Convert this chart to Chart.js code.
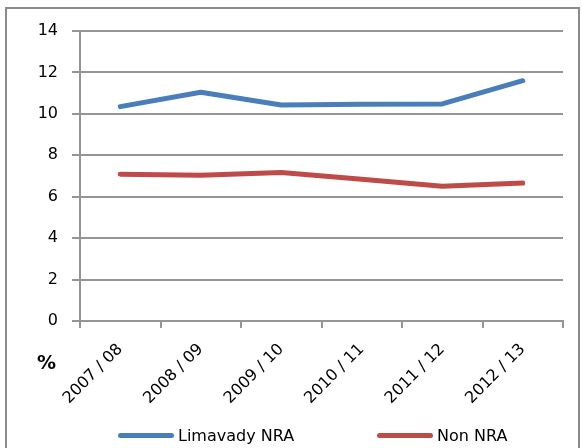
<!DOCTYPE html>
<html>
<head>
<meta charset="utf-8">
<script src="https://cdn.jsdelivr.net/npm/chart.js@4"></script>
<style>
    body { margin: 0; background: #fff; font-family: "DejaVu Sans", sans-serif; }
    .wrap { position: relative; width: 582px; height: 448px; overflow: hidden; }
    .frame { position: absolute; left: 5px; top: 7px; width: 571px; height: 460px; border: 2px solid #8a8a8a; }
    canvas { position: absolute; left: 0; top: 0; }
    .unit { position: absolute; left: 37px; top: 351px; font-weight: bold; font-size: 19px; color: #000; }
    .legend-item { position: absolute; top: 426px; font-size: 16px; color: #000; white-space: nowrap; }
    .legend-item span.swatch { display: inline-block; width: 56px; height: 5px; border-radius: 3px; vertical-align: middle; margin-right: 4px; position: relative; top: -1px; }
</style>
</head>
<body>
<div class="wrap">
    <div class="frame"></div>
    <canvas id="trendChart" width="582" height="448"></canvas>
    <div class="unit">%</div>
    <div id="legend"></div>
</div>
<script>
// Chart data
const years = ['2007 / 08', '2008 / 09', '2009 / 10', '2010 / 11', '2011 / 12', '2012 / 13'];
const limavadyNra = [10.35, 11.04, 10.43, 10.46, 10.48, 11.6];
const nonNra = [7.09, 7.04, 7.17, 6.84, 6.5, 6.66];
const yTicks = [0, 2, 4, 6, 8, 10, 12, 14];

const seriesColors = ['#4a7ebb', '#be4b48'];
const legendLeft = [118, 377];

document.addEventListener('DOMContentLoaded', () => {
    const gridGrey = '#959595';
    const font = { family: 'DejaVu Sans', size: 16 };

    const chart = new Chart(document.getElementById('trendChart'), {
        type: 'line',
        data: {
            labels: years,
            datasets: [
                { label: 'Limavady NRA', data: limavadyNra, borderColor: seriesColors[0] },
                { label: 'Non NRA', data: nonNra, borderColor: seriesColors[1] }
            ]
        },
        options: {
            responsive: false,
            animation: false,
            layout: { padding: { left: 0, right: 19, top: 31, bottom: 0 } },
            elements: {
                line: { borderWidth: 5, tension: 0, borderCapStyle: 'round', borderJoinStyle: 'round', fill: false },
                point: { radius: 0, hoverRadius: 0 }
            },
            plugins: {
                legend: { display: false },
                tooltip: { enabled: false }
            },
            scales: {
                x: {
                    offset: true,
                    grid: { offset: true, drawOnChartArea: false, drawTicks: true, tickLength: 7, color: gridGrey, lineWidth: 2 },
                    border: { color: gridGrey, width: 2 },
                    ticks: { color: '#000', font: font, minRotation: 45, maxRotation: 45, padding: 12, autoSkip: false },
                    afterFit: (scale) => { scale.height = 127; }
                },
                y: {
                    min: 0,
                    max: 14,
                    afterBuildTicks: (scale) => { scale.ticks = yTicks.map(v => ({ value: v })); },
                    grid: { color: gridGrey, lineWidth: 2, tickLength: 8 },
                    border: { color: gridGrey, width: 2 },
                    ticks: { color: '#000', font: font, padding: 14 },
                    afterFit: (scale) => { scale.width = 80; }
                }
            }
        }
    });

    // HTML legend built from the datasets
    const legend = document.getElementById('legend');
    chart.data.datasets.forEach((ds, i) => {
        const item = document.createElement('div');
        item.className = 'legend-item';
        item.style.left = legendLeft[i] + 'px';
        const swatch = document.createElement('span');
        swatch.className = 'swatch';
        swatch.style.background = ds.borderColor;
        item.appendChild(swatch);
        item.appendChild(document.createTextNode(ds.label));
        legend.appendChild(item);
    });
});
</script>
</body>
</html>
